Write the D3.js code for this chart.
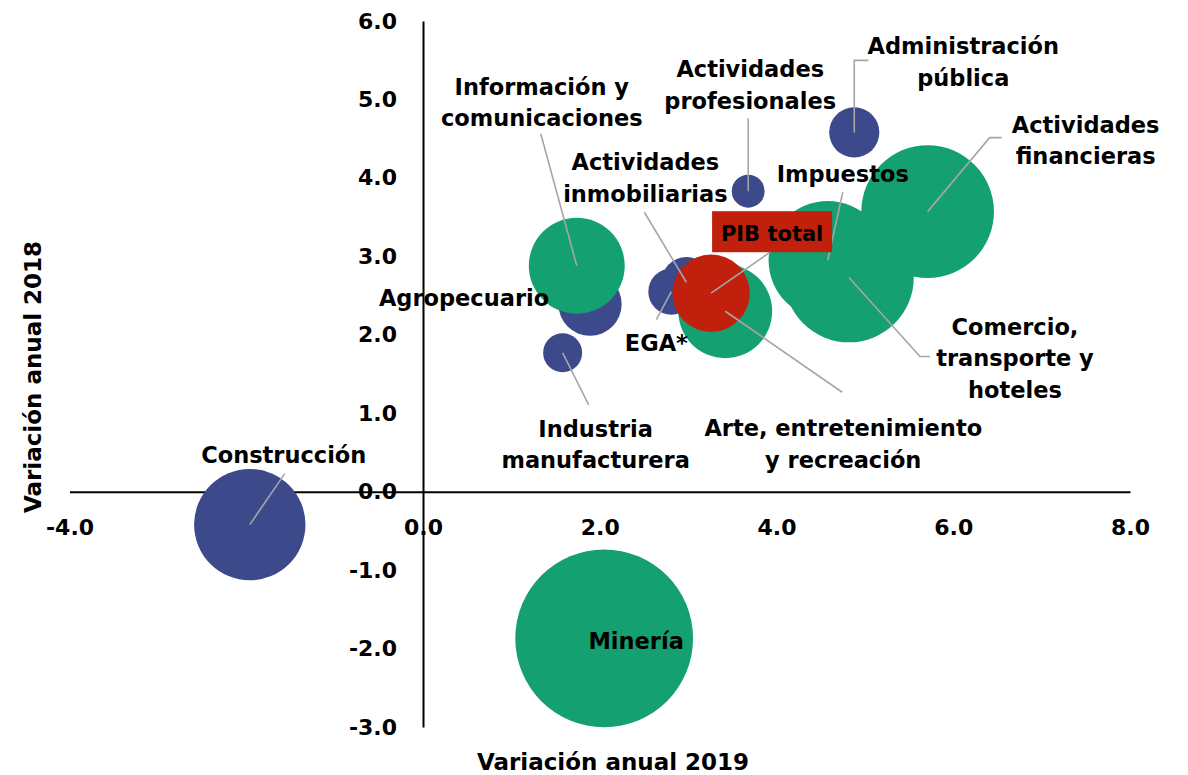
<!DOCTYPE html>
<html>
<head>
<meta charset="utf-8">
<script src="https://cdn.jsdelivr.net/npm/d3@7"></script>
<style>
  body { margin: 0; background: #fff; }
  text { font-family: "DejaVu Sans", sans-serif; font-weight: bold; fill: #000; }
</style>
</head>
<body>
<div id="chart"></div>
<script>
// datos: variación anual 2019 (x), 2018 (y) y peso de cada sector (tamaño de burbuja)
var sectores = ["Construcción", "Minería", "Agropecuario", "Información y comunicaciones",
  "Industria manufacturera", "EGA*", "Actividades inmobiliarias", "Arte, entretenimiento y recreación",
  "Actividades profesionales", "Administración pública", "Impuestos",
  "Comercio, transporte y hoteles", "Actividades financieras", "PIB total"]
var var2019 = [-1.96, 2.05, 1.89, 1.74, 1.58, 2.81, 2.98, 3.42, 3.68, 4.88, 4.58, 4.82, 5.71, 3.26]
var var2018 = [-0.42, -1.87, 2.39, 2.88, 1.77, 2.55, 2.67, 2.30, 3.83, 4.58, 2.95, 2.73, 3.57, 2.53]
var peso = [31, 79, 10, 23, 3.8, 5.3, 6.3, 22, 2.7, 6.3, 35, 42, 44, 15]
var tipo = ["azul", "verde", "azul", "verde", "azul", "azul", "azul", "verde", "azul", "azul", "verde", "verde", "verde", "total"]

var xTicks = [-4, -2, 0, 2, 4, 6, 8]
var yTicks = [-3, -2, -1, 0, 1, 2, 3, 4, 5, 6]

var colores = {azul: "#3c4a8b", verde: "#14a070", total: "#c0200c"}

// etiquetas: texto, desplazamiento (px) respecto al centro de la burbuja y línea guía
var etiquetas = {
  "Construcción": {lines: ["Construcción"], dx: 34, dy: -62, guia: [[0, 0], [35, -51]]},
  "Minería": {lines: ["Minería"], dx: 32, dy: 11},
  "Agropecuario": {lines: ["Agropecuario"], dx: -126, dy: 2},
  "Información y comunicaciones": {lines: ["Información y", "comunicaciones"], dx: -35, dy: -171, guia: [[0, 0], [-36, -132]]},
  "Industria manufacturera": {lines: ["Industria", "manufacturera"], dx: 33, dy: 84, guia: [[0, 0], [26, 52]]},
  "EGA*": {lines: ["EGA*"], dx: -15, dy: 59, guia: [[0, 0], [-15, 28]]},
  "Actividades inmobiliarias": {lines: ["Actividades", "inmobiliarias"], dx: -41, dy: -112, guia: [[0, 0], [-42, -70]]},
  "Arte, entretenimiento y recreación": {lines: ["Arte, entretenimiento", "y recreación"], dx: 118, dy: 125, guia: [[0, 0], [117, 81]]},
  "Actividades profesionales": {lines: ["Actividades", "profesionales"], dx: 2, dy: -114, guia: [[0, 0], [0, -73]]},
  "Administración pública": {lines: ["Administración", "pública"], dx: 109, dy: -78, guia: [[0, 0], [0, -72], [14, -72]]},
  "Impuestos": {lines: ["Impuestos"], dx: 15, dy: -78, guia: [[0, 0], [15, -68]]},
  "Comercio, transporte y hoteles": {lines: ["Comercio,", "transporte y", "hoteles"], dx: 166, dy: 57, guia: [[0, 0], [71, 79], [81, 79]]},
  "Actividades financieras": {lines: ["Actividades", "financieras"], dx: 158, dy: -79, guia: [[0, 0], [62, -74], [74, -74]]},
  "PIB total": {lines: ["PIB total"], dx: 61, dy: -52, guia: [[0, 0], [59, -41]], caja: true}
}

var width = 1188, height = 775
var svg = d3.select("#chart").append("svg")
  .attr("width", width)
  .attr("height", height)

var x = d3.scaleLinear().domain([-4, 8]).range([69.5, 1130])
var y = d3.scaleLinear().domain([-3, 6]).range([727, 21])
var r = d3.scaleSqrt().domain([0, 100]).range([0, 100])

var fmt = function(d) { return d.toFixed(1) }

var data = sectores.map(function(s, i) {
  return {name: s, x: var2019[i], y: var2018[i], w: peso[i], tipo: tipo[i]}
})

// ejes cruzando en el origen
var xAxis = svg.append("g")
  .attr("transform", "translate(0," + y(0) + ")")
  .call(d3.axisBottom(x).tickValues(xTicks).tickFormat(fmt).tickSize(0).tickPadding(28))
var yAxis = svg.append("g")
  .attr("transform", "translate(" + x(0) + ",0)")
  .call(d3.axisLeft(y).tickValues(yTicks).tickFormat(fmt).tickSize(0).tickPadding(26))

svg.selectAll(".domain").style("stroke", "#000").style("stroke-width", 2)
svg.selectAll(".tick text")
  .style("font-family", "'DejaVu Sans', sans-serif")
  .style("font-weight", "bold")
  .style("font-size", "22px")
  .style("fill", "#000")

// burbujas
svg.append("g").selectAll("circle")
  .data(data)
  .enter().append("circle")
  .attr("cx", function(d) { return x(d.x) })
  .attr("cy", function(d) { return y(d.y) })
  .attr("r", function(d) { return r(d.w) })
  .style("fill", function(d) { return colores[d.tipo] })

// líneas guía
var line = d3.line()
svg.append("g").selectAll("path")
  .data(data.filter(function(d) { return etiquetas[d.name].guia }))
  .enter().append("path")
  .attr("d", function(d) {
    var cx = x(d.x), cy = y(d.y)
    return line(etiquetas[d.name].guia.map(function(p) { return [cx + p[0], cy + p[1]] }))
  })
  .style("fill", "none")
  .style("stroke", "#a6a6a6")
  .style("stroke-width", 1.6)

// etiquetas
var lab = svg.append("g").selectAll("g")
  .data(data)
  .enter().append("g")
  .attr("transform", function(d) {
    var e = etiquetas[d.name]
    return "translate(" + (x(d.x) + e.dx) + "," + (y(d.y) + e.dy) + ")"
  })

lab.filter(function(d) { return etiquetas[d.name].caja })
  .append("rect")
  .attr("x", -60).attr("y", -30).attr("width", 120).attr("height", 41)
  .style("fill", colores.total)

lab.append("text")
  .attr("text-anchor", "middle")
  .style("font-size", function(d) { return etiquetas[d.name].caja ? "21px" : "22.5px" })
  .selectAll("tspan")
  .data(function(d) { return etiquetas[d.name].lines })
  .enter().append("tspan")
  .attr("x", 0)
  .attr("y", function(d, i) { return i * 31.5 })
  .text(function(d) { return d })

// títulos de ejes
svg.append("text")
  .attr("x", 613).attr("y", 770)
  .attr("text-anchor", "middle")
  .style("font-size", "23px")
  .text("Variación anual 2019")
svg.append("text")
  .attr("transform", "translate(41,377) rotate(-90)")
  .attr("text-anchor", "middle")
  .style("font-size", "23px")
  .text("Variación anual 2018")
</script>
</body>
</html>
